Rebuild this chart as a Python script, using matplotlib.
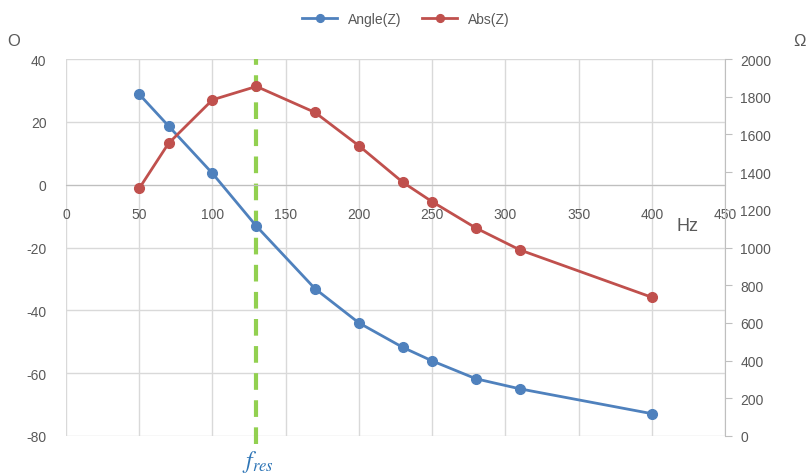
import matplotlib.pyplot as plt

freq = [50, 70, 100, 130, 170, 200, 230, 250, 280, 310, 400]
angle_z = [28.8, 18.7, 3.6, -13.2, -33.1, -44.0, -51.8, -56.1, -61.8, -65.0, -72.9]
abs_z = [1314, 1553, 1784, 1855, 1717, 1540, 1346, 1243, 1103, 987, 736]
f_res = 130

x_ticks = list(range(0, 451, 50))
left_ticks = list(range(-80, 41, 20))
right_ticks = list(range(0, 2001, 200))

gray = '#595959'
grid = '#D9D9D9'
plt.rcParams['font.family'] = ['Liberation Sans', 'DejaVu Sans']
plt.rcParams['axes.unicode_minus'] = False
plt.rcParams['mathtext.fontset'] = 'stix'

fig = plt.figure(figsize=(8.12, 4.77), dpi=100)
ax = fig.add_axes([0.0813, 0.0839, 0.8117, 0.7901])
ax2 = ax.twinx()

ax.set_xlim(0, 450)
ax.set_ylim(-80, 40)
ax2.set_ylim(0, 2000)

ax.set_xticks(x_ticks)
ax.set_yticks(left_ticks)
ax2.set_yticks(right_ticks)
ax.grid(True, color=grid, lw=1)
ax.set_axisbelow(True)

for s in ['top', 'left']:
    ax.spines[s].set_visible(False)
for s in ['top', 'left', 'bottom']:
    ax2.spines[s].set_visible(False)
ax.spines['right'].set_visible(False)
ax.spines['bottom'].set_position(('data', 0))
ax.spines['bottom'].set_color('#BFBFBF')
ax2.spines['right'].set_color('#BFBFBF')

ax.tick_params(axis='x', length=0, labelsize=10, labelcolor=gray, pad=16)
ax.tick_params(axis='y', length=0, labelsize=10, labelcolor=gray, pad=14)
ax2.tick_params(axis='y', length=5, color='#BFBFBF', labelsize=10, labelcolor=gray, pad=6)

l1, = ax.plot(freq, angle_z, color='#4F81BD', lw=2, marker='o', ms=7, label='Angle(Z)', zorder=3)
l2, = ax2.plot(freq, abs_z, color='#C0504D', lw=2, marker='o', ms=7, label='Abs(Z)', zorder=3)

ax.axvline(f_res, ymin=-0.02, ymax=1.0, color='#92D050', lw=3, ls=(0, (4, 2.5)), zorder=2, clip_on=False)

fig.legend(handles=[l1, l2], loc='upper center', bbox_to_anchor=(0.5, 1.0), ncol=2,
           frameon=False, fontsize=10, labelcolor=gray, handlelength=2.5, columnspacing=1.5,
           markerscale=0.8)

fig.text(14 / 812, 1 - 42 / 477, 'O', fontsize=12, color=gray, ha='center', va='center')
fig.text(800 / 812, 1 - 42 / 477, 'Ω', fontsize=12, color=gray, ha='center', va='center')
fig.text(687 / 812, 1 - 227 / 477, 'Hz', fontsize=13, color=gray, ha='center', va='center')
fig.text(258 / 812, 1 - 462 / 477, r'$f_{res}$', fontsize=17, color='#2E75B6', ha='center', va='center')

fig.savefig('out.png', dpi=100)
